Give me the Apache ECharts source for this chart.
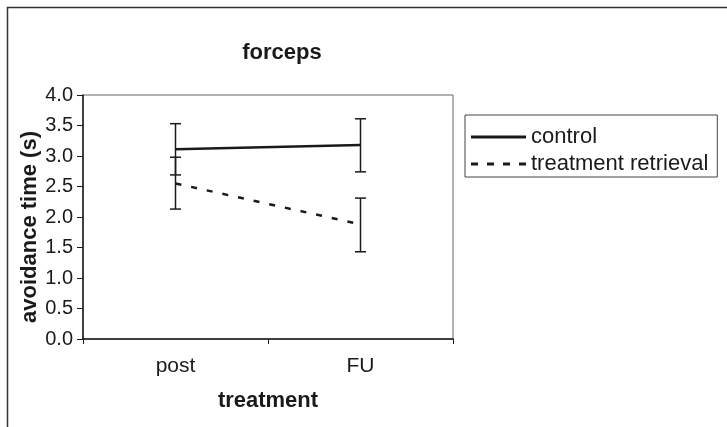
<!DOCTYPE html>
<html>
<head>
<meta charset="utf-8">
<script src="https://cdn.jsdelivr.net/npm/echarts@6/dist/echarts.min.js"></script>
<style>
html,body{margin:0;padding:0;background:#fff;}
#chart{width:727px;height:427px;}
</style>
</head>
<body>
<div id="chart"></div>
<script>
var categories = ['post', 'FU'];
var yTicks = [0, 0.5, 1.0, 1.5, 2.0, 2.5, 3.0, 3.5, 4.0];
var seriesNames = ['control', 'treatment retrieval'];
var controlValues = [3.11, 3.18];
var controlLow = [2.69, 2.74];
var controlHigh = [3.53, 3.61];
var treatmentValues = [2.55, 1.88];
var treatmentLow = [2.13, 1.43];
var treatmentHigh = [2.98, 2.31];

var FONT = '"Liberation Sans", Arial, sans-serif';
var INK = '#1a1a1a';

var solidIcon = 'path://M0,0h55v3h-55z';
var dashIcon = 'path://M0,0h7v3h-7z M16,0h7v3h-7z M32,0h7v3h-7z M48,0h7v3h-7z';

function errorData(low, high) {
  return categories.map(function (c, i) { return [i, low[i], high[i]]; });
}

function renderError(params, api) {
  var x = api.value(0);
  var lo = api.coord([x, api.value(1)]);
  var hi = api.coord([x, api.value(2)]);
  var hw = 5.5;
  var st = { stroke: INK, lineWidth: 1.5 };
  return {
    type: 'group',
    children: [
      { type: 'line', shape: { x1: lo[0], y1: lo[1], x2: hi[0], y2: hi[1] }, style: st },
      { type: 'line', shape: { x1: lo[0] - hw, y1: lo[1], x2: lo[0] + hw, y2: lo[1] }, style: st },
      { type: 'line', shape: { x1: hi[0] - hw, y1: hi[1], x2: hi[0] + hw, y2: hi[1] }, style: st }
    ]
  };
}

var chart = echarts.init(document.getElementById('chart'), null, { renderer: 'canvas' });
chart.setOption({
  animation: false,
  backgroundColor: '#fff',
  textStyle: { fontFamily: FONT, color: INK },
  graphic: [{
    type: 'rect',
    shape: { x: 7.5, y: 7.5, width: 800, height: 500 },
    style: { fill: 'none', stroke: '#333', lineWidth: 1.5 },
    z: -1
  }],
  title: {
    text: 'forceps',
    left: 277, top: 37,
    textAlign: 'center',
    textStyle: { fontFamily: FONT, fontWeight: 'bold', fontSize: 22, color: INK }
  },
  legend: {
    orient: 'vertical',
    left: 465, top: 115,
    padding: [10, 9, 1, 6],
    itemWidth: 55,
    itemHeight: 3,
    itemGap: 3,
    borderColor: '#444',
    borderWidth: 1,
    data: [
      { name: seriesNames[0], icon: solidIcon, itemStyle: { color: INK, borderWidth: 0 } },
      { name: seriesNames[1], icon: dashIcon, itemStyle: { color: INK, borderWidth: 0 } }
    ],
    textStyle: { fontFamily: FONT, fontSize: 22, color: INK, lineHeight: 24 }
  },
  grid: {
    left: 83, top: 95, right: 274, bottom: 88,
    show: true, borderColor: '#666', borderWidth: 1, backgroundColor: 'transparent'
  },
  xAxis: {
    type: 'category',
    data: categories,
    boundaryGap: true,
    name: 'treatment',
    nameLocation: 'middle',
    nameGap: 51,
    nameMoveOverlap: false,
    nameTextStyle: { fontFamily: FONT, fontWeight: 'bold', fontSize: 22, color: INK },
    axisLine: { lineStyle: { color: INK, width: 1.5 } },
    axisTick: { show: true, length: 5, alignWithLabel: false, lineStyle: { color: INK } },
    axisLabel: { fontFamily: FONT, fontSize: 21, color: INK, margin: 17 },
    splitLine: { show: false }
  },
  yAxis: {
    type: 'value',
    min: 0, max: 4, interval: 0.5,
    name: 'avoidance time (s)',
    nameLocation: 'middle',
    nameGap: 42,
    nameMoveOverlap: false,
    nameTextStyle: { fontFamily: FONT, fontWeight: 'bold', fontSize: 22, color: INK, padding: [0, 20, 0, 0] },
    axisLine: { show: true, lineStyle: { color: INK, width: 1.5 } },
    axisTick: { show: true, length: 6, lineStyle: { color: INK } },
    axisLabel: {
      fontFamily: FONT, fontSize: 20, color: INK, margin: 10,
      formatter: function (v) { return yTicks.indexOf(v) >= 0 ? v.toFixed(1) : ''; }
    },
    splitLine: { show: false }
  },
  series: [
    {
      name: seriesNames[0], type: 'line', data: controlValues,
      symbol: 'none', color: INK,
      lineStyle: { color: INK, width: 2.5, type: 'solid' }, z: 3
    },
    {
      name: seriesNames[1], type: 'line', data: treatmentValues,
      symbol: 'none', color: INK,
      lineStyle: { color: INK, width: 2.5, type: [6, 10] }, z: 3
    },
    {
      name: 'control error', type: 'custom', data: errorData(controlLow, controlHigh),
      renderItem: renderError, encode: { x: 0, y: [1, 2] }, z: 4, silent: true
    },
    {
      name: 'treatment error', type: 'custom', data: errorData(treatmentLow, treatmentHigh),
      renderItem: renderError, encode: { x: 0, y: [1, 2] }, z: 4, silent: true
    }
  ]
});
</script>
</body>
</html>
